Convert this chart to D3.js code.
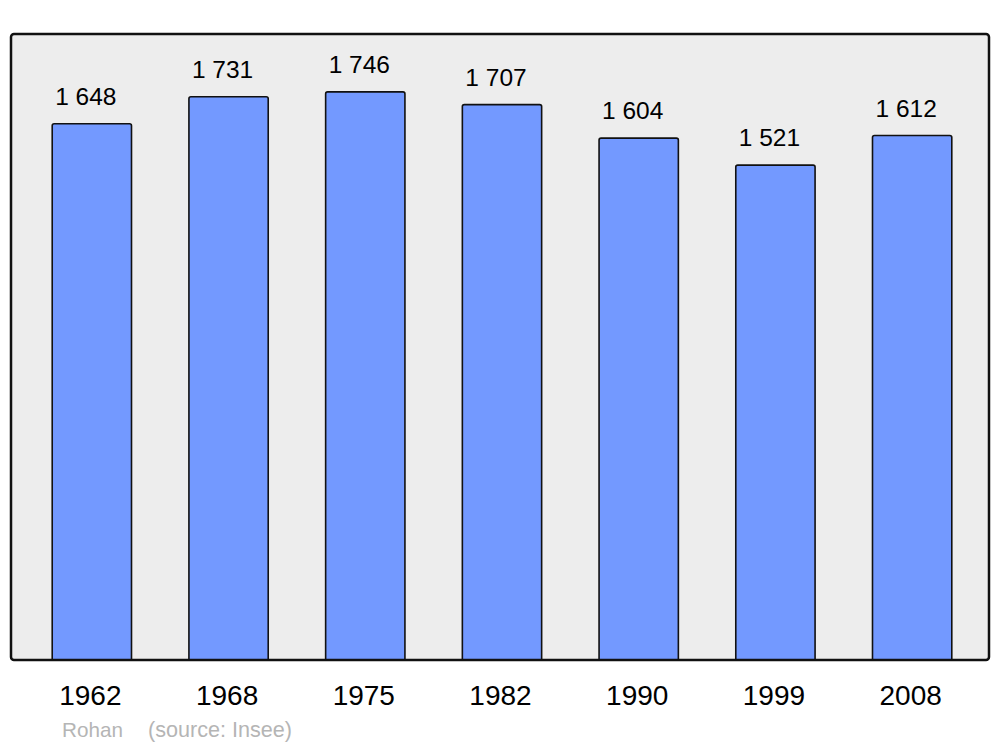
<!DOCTYPE html>
<html><head><meta charset="utf-8">
<script src="https://cdn.jsdelivr.net/npm/d3@7"></script>
<style>body{margin:0;background:#fff}svg{display:block}text{font-family:"Liberation Sans",Arial,sans-serif}</style>
</head><body>
<script>
const years = ["1962","1968","1975","1982","1990","1999","2008"];
const population = [1648,1731,1746,1707,1604,1521,1612];
const valueLabels = ["1 648","1 731","1 746","1 707","1 604","1 521","1 612"];
const commune = "Rohan";
const source = "(source: Insee)";

const W=1000,H=747;
const svg=d3.select("body").append("svg").attr("width",W).attr("height",H);
const panel={x0:11,x1:989,y0:34,y1:660};
svg.append("rect").attr("x",panel.x0).attr("y",panel.y0)
  .attr("width",panel.x1-panel.x0).attr("height",panel.y1-panel.y0)
  .attr("rx",3).attr("fill","#ededed");

const x=d3.scaleBand().domain(years).range([23.5,980.5]).paddingInner(0.42).paddingOuter(0.21);
const y=d3.scaleLinear().domain([0,1924]).range([panel.y1,panel.y0]);

const g=svg.append("g");
years.forEach((yr,i)=>{
  const v=population[i];
  const bx=x(yr), bw=x.bandwidth(), top=y(v), bot=y(0);
  const r=2;
  g.append("path")
    .attr("d",`M${bx},${bot} L${bx},${top+r} Q${bx},${top} ${bx+r},${top} L${bx+bw-r},${top} Q${bx+bw},${top} ${bx+bw},${top+r} L${bx+bw},${bot}`)
    .attr("fill","#7399ff").attr("stroke","#111").attr("stroke-width",1.6);
  g.append("text").attr("x",bx+bw/2-6).attr("y",top-19).attr("text-anchor","middle")
    .attr("font-size",24.5).attr("fill","#000").text(valueLabels[i]);
  g.append("text").attr("x",bx+bw/2-1.5).attr("y",705).attr("text-anchor","middle")
    .attr("font-size",28).attr("fill","#000").text(yr);
});
svg.append("rect").attr("x",panel.x0).attr("y",panel.y0)
  .attr("width",panel.x1-panel.x0).attr("height",panel.y1-panel.y0)
  .attr("rx",3).attr("fill","none").attr("stroke","#111").attr("stroke-width",2.5);

svg.append("text").attr("x",62).attr("y",737).attr("font-size",20.7).attr("fill","#b5b5b5").text(commune);
svg.append("text").attr("x",148).attr("y",737).attr("font-size",21.6).attr("fill","#b5b5b5").text(source);
</script>
</body></html>
